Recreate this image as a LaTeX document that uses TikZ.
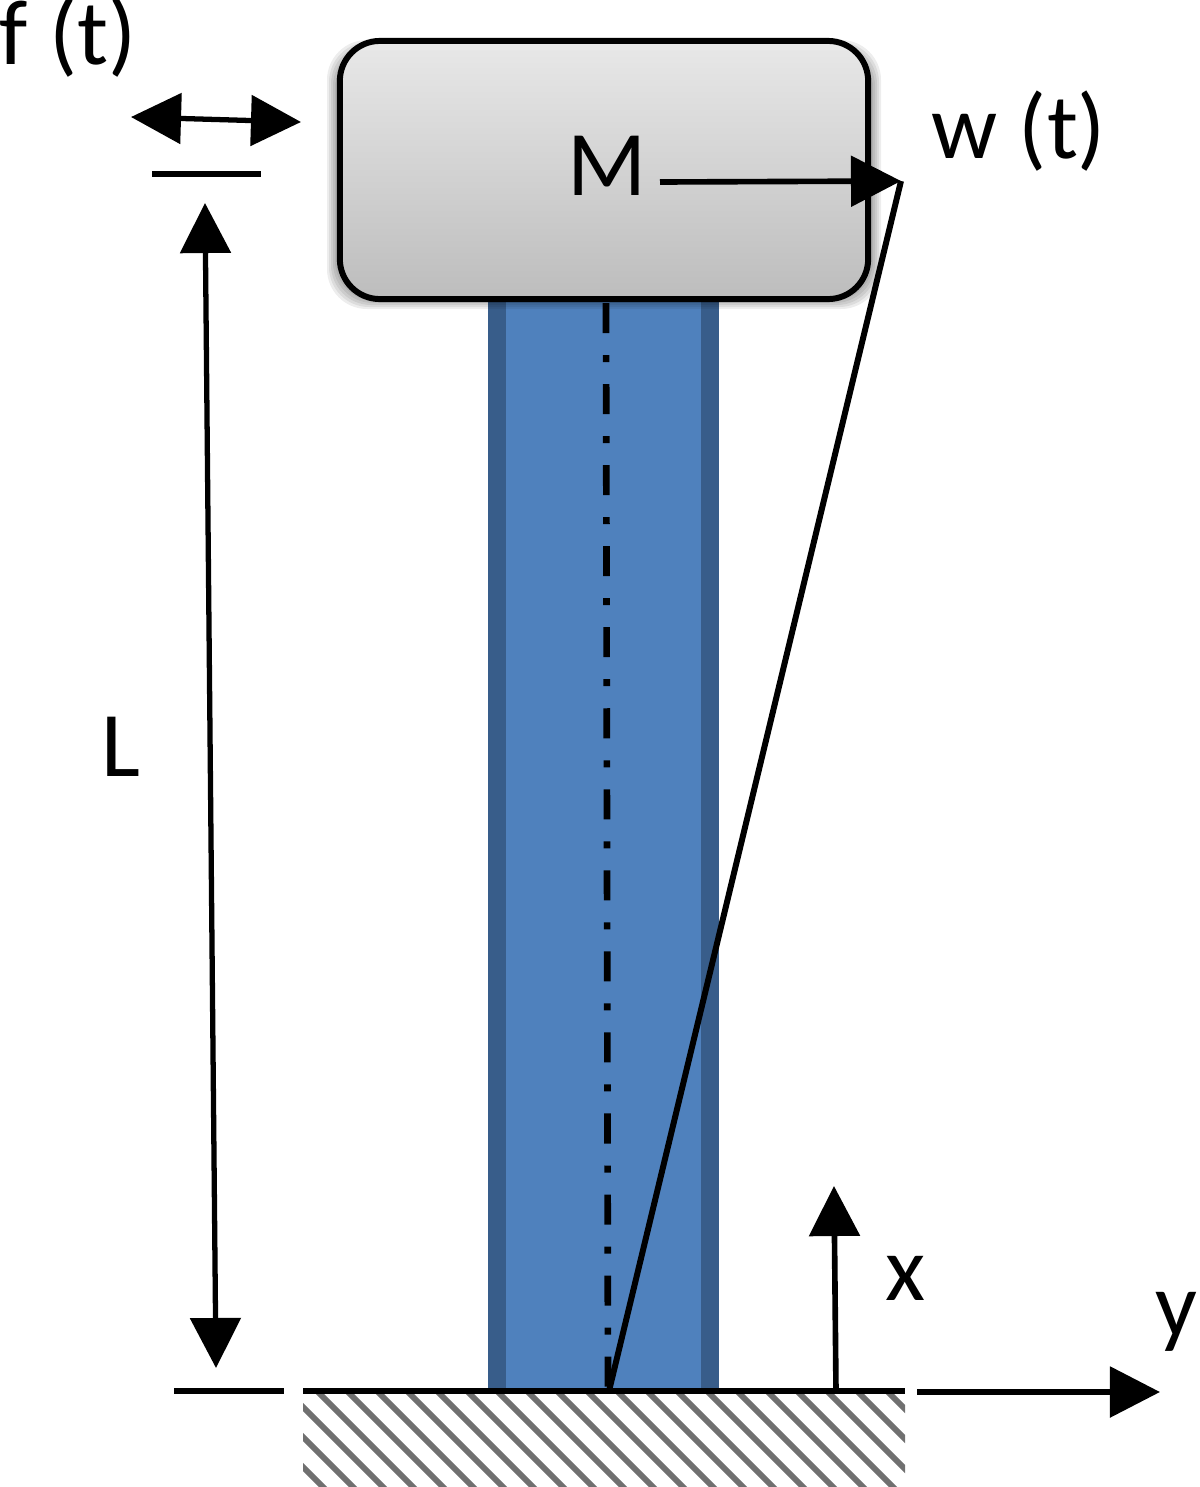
\documentclass[tikz,border=0pt]{standalone}
\usepackage{fontspec}
\setmainfont{Carlito}
\usepackage{tikz}
\usetikzlibrary{arrows.meta}
\definecolor{beam fill}{HTML}{4F81BD}
\definecolor{beam edge}{HTML}{385D8A}
\definecolor{hatch gray}{HTML}{707070}
\tikzset{
  % labels
  plot label/.style = {
    font=\fontsize{26.3}{26.3}\selectfont,
    inner sep=0pt,
    anchor=base,
  },
  % the beam and the tip mass
  beam/.style = {
    fill=beam fill,
    minimum width=2.29cm,
    minimum height=10.91cm,
    inner sep=0pt,
  },
  beam side/.style = {draw=beam edge,line width=0.18cm},
  mass/.style = {
    draw=black,
    line width=1.7pt,
    rounded corners=0.4cm,
    top color=black!9,
    bottom color=black!26,
    minimum width=5.28cm,
    minimum height=2.58cm,
    inner sep=0pt,
  },
  soft shadow/.style = {fill=black,opacity=0.07},
  % lines
  ground/.style = {line width=1.7pt},
  centre line/.style = {
    line width=1.9pt,
    dash pattern=on 0.3cm off 0.22cm on 0.07cm off 0.22cm,
  },
  hatch/.style = {draw=hatch gray,line width=1.7pt},
  big arrow/.style = {
    line width=1.6pt,
    -{Triangle[length=0.5cm,width=0.5cm]},
  },
  both arrow/.style = {
    line width=1.5pt,
    {Triangle[length=0.5cm,width=0.5cm]}-{Triangle[length=0.5cm,width=0.5cm]},
  },
}
\begin{document}
\begin{tikzpicture}[x=0.01cm,y=-0.01cm]
  \useasboundingbox (0,0) rectangle (1200,1487);
  % beam, clamp and mass
  \node[beam] (beam) at (603.5,845.5) {};
  \draw[beam side] ([xshift=0.09cm]beam.north west)--([xshift=0.09cm]beam.south west);
  \draw[beam side] ([xshift=-0.09cm]beam.north east)--([xshift=-0.09cm]beam.south east);
  \begin{scope}
    \clip (303,1391) rectangle (905,1487);
    \foreach \i in {-4,...,20}{
      \draw[hatch] (287+30*\i,1391) --++ (110,110);
    }
  \end{scope}
  \foreach \s in {1,3,...,15}{
    \fill[soft shadow,rounded corners=0.4cm] (342-\s,55-\s) rectangle (866+\s,294+\s);
  }
  \node[mass] (mass) at (604,170) {};
  % fixed points
  \coordinate (tip) at (901,181);
  \coordinate (foot) at (609,1391);
  \coordinate (top) at (606,303);
  \coordinate (gl) at (303,1391);
  \coordinate (gr) at (905,1391);
  \coordinate (xa) at (836,1391);
  \coordinate (xb) at (834,1186);
  \coordinate (ya) at (917,1392);
  \coordinate (yb) at (1160,1392);
  \coordinate (fa) at (131,117);
  \coordinate (fb) at (301,122);
  \coordinate (ra) at (152,174);
  \coordinate (rb) at (261,174);
  \coordinate (sa) at (174,1391);
  \coordinate (sb) at (284,1391);
  \coordinate (la) at (205,203);
  \coordinate (lb) at (216,1368);
  \coordinate (ma) at (660,182);
  \coordinate (cb) at (608,1391);
  % labels
  \node[plot label] (mlabel) at (607,195) {M};
  \node[plot label] (flabel) at (68,64) {f (t)};
  \node[plot label] (wlabel) at (1019,158) {w (t)};
  \node[plot label] (llabel) at (121,776) {L};
  \node[plot label] (xlabel) at (906,1300) {x};
  \node[plot label] (ylabel) at (1176,1336) {y};
  % lines and arrows
  \draw[centre line] (top)--(cb);
  \draw[ground] (gl)--(gr);
  \draw[ground] (sa)--(sb);
  \draw[ground] (ra)--(rb);
  \draw[ground] (foot)--(tip);
  \draw[big arrow] (ma)--(tip);
  \draw[big arrow] (xa)--(xb);
  \draw[big arrow] (ya)--(yb);
  \draw[both arrow] (fa)--(fb);
  \draw[both arrow] (la)--(lb);
\end{tikzpicture}
\end{document}
